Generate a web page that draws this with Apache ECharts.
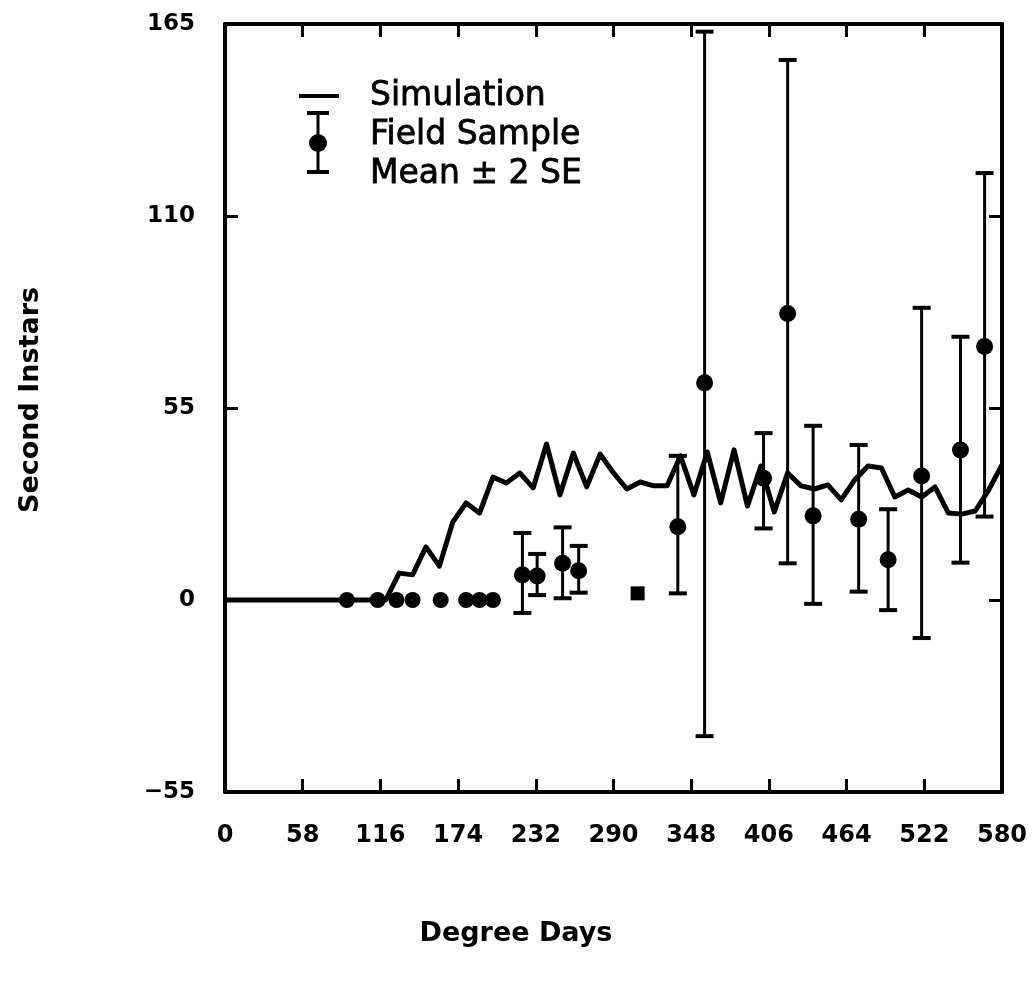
<!DOCTYPE html>
<html>
<head>
<meta charset="utf-8">
<script src="https://cdn.jsdelivr.net/npm/echarts@6/dist/echarts.min.js"></script>
<style>
html,body{margin:0;padding:0;background:#fff;}
#chart{width:1032px;height:986px;}
</style>
</head>
<body>
<div id="chart"></div>
<script>
// ---- Data ----
const xTicks = [0, 58, 116, 174, 232, 290, 348, 406, 464, 522, 580];
const yTicks = [-55, 0, 55, 110, 165];

// Simulation (degree days, second instars)
const simDegreeDays = [0,10,20,30,40,50,60,70,80,90,100,110,120,130,140,150,160,170,180,190,200,210,220,230,240,250,260,270,280,290,300,310,320,330,340,350,360,370,380,390,400,410,420,430,440,450,460,470,480,490,500,510,520,530,540,550,560,570,580];
const simValues = [0,0,0,0,0,0,0,0,0,0,0,0,0,7.7,7.2,15.2,9.7,22.3,27.8,24.9,35.2,33.5,36.4,32.1,44.7,30.1,42.1,32.4,41.8,36.4,31.8,33.8,32.7,32.7,41.3,30.1,42.4,27.8,43.0,26.9,38.4,25.2,36.4,32.7,31.8,33.0,28.7,34.4,38.4,37.8,29.5,31.5,29.5,32.4,24.9,24.6,25.5,31.5,38.7];

// Field samples with zero counts (no spread)
const zeroDegreeDays = [91, 114, 128, 140, 161, 180, 190, 200];
const zeroValues = [0, 0, 0, 0, 0, 0, 0, 0];

// Field samples: mean and mean ± 2 SE
const fieldDegreeDays = [222, 233, 252, 264, 338, 358, 402, 420, 439, 473, 495, 520, 549, 567];
const fieldMean  = [7.2, 6.9, 10.5, 8.4, 21.0, 62.2, 34.9, 82.1, 24.1, 23.1, 11.5, 35.5, 43.0, 72.6];
const fieldLow   = [-3.7, 1.4, 0.5, 2.1, 1.9, -39.0, 20.5, 10.5, -1.1, 2.4, -2.9, -10.9, 10.7, 23.9];
const fieldHigh  = [19.2, 13.2, 20.8, 15.5, 41.3, 162.8, 47.8, 154.7, 49.9, 44.4, 26.0, 83.7, 75.4, 122.3];

// Single square-marked sample
const squareDegreeDays = [308];
const squareValues = [1.9];

// ---- Build ----
const simData = simDegreeDays.map((d, i) => [d, simValues[i]]);
const zeroData = zeroDegreeDays.map((d, i) => [d, zeroValues[i]]);
const meanData = fieldDegreeDays.map((d, i) => [d, fieldMean[i]]);
const barData = fieldDegreeDays.map((d, i) => [d, fieldLow[i], fieldHigh[i]]);
const squareData = squareDegreeDays.map((d, i) => [d, squareValues[i]]);

const chart = echarts.init(document.getElementById('chart'), null, {renderer: 'canvas'});
const FONT = 'DejaVu Sans';
const tickStyle = {show: true, inside: true, length: 13, lineStyle: {color: '#000', width: 3}};
const lineStyleAxis = {show: true, onZero: false, lineStyle: {color: '#000', width: 4}};

const xBase = {
  type: 'value', min: xTicks[0], max: xTicks[xTicks.length - 1], interval: 58,
  axisLine: lineStyleAxis, axisTick: tickStyle, splitLine: {show: false}
};
const yBase = {
  type: 'value', min: yTicks[0], max: yTicks[yTicks.length - 1], interval: 55,
  axisLine: lineStyleAxis, axisTick: tickStyle, splitLine: {show: false}
};

const option = {
  backgroundColor: '#fff',
  animation: false,
  grid: {left: 225, right: 30, top: 24, bottom: 194, containLabel: false},
  xAxis: [
    Object.assign({}, xBase, {position: 'bottom',
      axisLabel: {show: true, margin: 32, color: '#000', fontFamily: FONT, fontWeight: 'bold', fontSize: 24,
        formatter: v => xTicks.includes(v) ? String(v) : ''}}),
    Object.assign({}, xBase, {position: 'top', axisLabel: {show: false}})
  ],
  yAxis: [
    Object.assign({}, yBase, {position: 'left',
      axisLabel: {show: true, margin: 30, color: '#000', fontFamily: FONT, fontWeight: 'bold', fontSize: 23,
        formatter: v => yTicks.includes(v) ? String(v).replace('-', '\u2212') : ''}}),
    Object.assign({}, yBase, {position: 'right', axisLabel: {show: false}})
  ],
  graphic: [
    {type: 'text', left: 'center', top: 920, style: {text: 'Degree Days', font: 'bold 27px "DejaVu Sans"', fill: '#000'}},
    {type: 'text', x: 31, y: 400, rotation: Math.PI / 2,
      style: {text: 'Second Instars', font: 'bold 27px "DejaVu Sans"', fill: '#000', align: 'center', verticalAlign: 'middle'}},
    // legend
    {type: 'line', shape: {x1: 299, y1: 96, x2: 339, y2: 96}, style: {stroke: '#000', lineWidth: 4}},
    {type: 'line', shape: {x1: 318, y1: 113, x2: 318, y2: 172}, style: {stroke: '#000', lineWidth: 3}},
    {type: 'line', shape: {x1: 307, y1: 113, x2: 329, y2: 113}, style: {stroke: '#000', lineWidth: 4}},
    {type: 'line', shape: {x1: 307, y1: 172, x2: 329, y2: 172}, style: {stroke: '#000', lineWidth: 4}},
    {type: 'circle', shape: {cx: 318, cy: 143, r: 9}, style: {fill: '#000'}},
    {type: 'text', x: 370, y: 96, style: {text: 'Simulation', font: '33px "DejaVu Sans"', fill: '#000', verticalAlign: 'middle', stroke: '#000', lineWidth: 0.8}},
    {type: 'text', x: 370, y: 135, style: {text: 'Field Sample', font: '33px "DejaVu Sans"', fill: '#000', verticalAlign: 'middle', stroke: '#000', lineWidth: 0.8}},
    {type: 'text', x: 370, y: 174, style: {text: 'Mean \u00b1 2 SE', font: '33px "DejaVu Sans"', fill: '#000', verticalAlign: 'middle', stroke: '#000', lineWidth: 0.8}}
  ],
  series: [
    {
      name: 'Simulation', type: 'line', data: simData, showSymbol: false,
      lineStyle: {color: '#000', width: 5, join: 'round'}, z: 2
    },
    {
      name: 'Error', type: 'custom', data: barData, encode: {x: 0, y: [1, 2]}, z: 3,
      renderItem: function (params, api) {
        const x = api.value(0);
        const lo = api.coord([x, api.value(1)]);
        const hi = api.coord([x, api.value(2)]);
        const hw = 9;
        return {
          type: 'group',
          children: [
            {type: 'line', shape: {x1: lo[0], y1: lo[1], x2: hi[0], y2: hi[1]}, style: {stroke: '#000', lineWidth: 3}},
            {type: 'line', shape: {x1: lo[0] - hw, y1: lo[1], x2: lo[0] + hw, y2: lo[1]}, style: {stroke: '#000', lineWidth: 4}},
            {type: 'line', shape: {x1: hi[0] - hw, y1: hi[1], x2: hi[0] + hw, y2: hi[1]}, style: {stroke: '#000', lineWidth: 4}}
          ]
        };
      }
    },
    {name: 'Mean', type: 'scatter', data: meanData, symbol: 'circle', symbolSize: 17, itemStyle: {color: '#000', opacity: 1}, z: 4},
    {name: 'Zero', type: 'scatter', data: zeroData, symbol: 'circle', symbolSize: 16, itemStyle: {color: '#000', opacity: 1}, z: 4},
    {name: 'Square', type: 'scatter', data: squareData, symbol: 'rect', symbolSize: 14, itemStyle: {color: '#000', opacity: 1}, z: 4}
  ]
};
chart.setOption(option);
</script>
</body>
</html>
